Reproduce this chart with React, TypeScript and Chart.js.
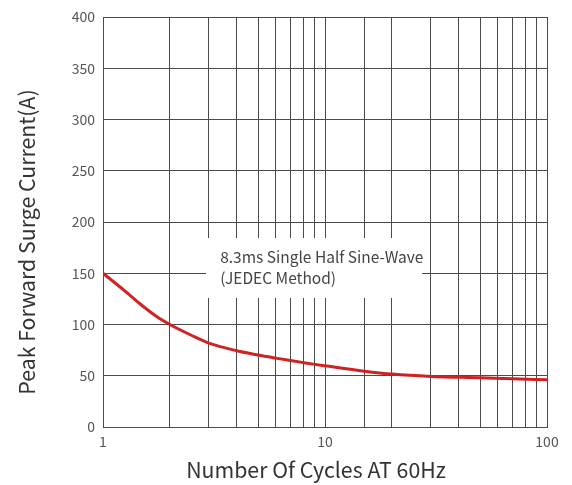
import React, { useEffect, useRef } from "react";
import { Chart, registerables } from "chart.js";

Chart.register(...registerables);

const cycles = [1, 1.25, 1.5, 1.75, 2, 2.5, 3, 4, 5, 6, 7, 8, 9, 10, 15, 20, 30, 50, 70, 100];
const surge = [150, 133, 118.5, 107.5, 100, 89.5, 81.8, 74.4, 70.2, 67.2, 64.8, 62.8, 61.1, 59.7, 54.5, 51.6, 49.3, 48, 47, 46.2];
const xTickLabels = [1, 10, 100];
const noteLines = ["8.3ms Single Half Sine-Wave", "(JEDEC Method)"];
const xTitle = "Number Of Cycles AT 60Hz";
const yTitle = "Peak Forward Surge Current(A)";

const FONT = "'Noto Sans CJK SC', 'Noto Sans', sans-serif";

const notePlugin = {
  id: "note",
  beforeDatasetsDraw(chart: any) {
    const { ctx, scales } = chart;
    const x = scales.x;
    const y = scales.y;
    const x0 = x.getPixelForValue(2.91);
    const x1 = x.getPixelForValue(27.4);
    const y0 = y.getPixelForValue(184.4);
    const y1 = y.getPixelForValue(125.9);
    ctx.save();
    ctx.fillStyle = "#ffffff";
    ctx.fillRect(x0, y0, x1 - x0, y1 - y0);
    ctx.fillStyle = "#444444";
    ctx.font = "15.5px " + FONT;
    ctx.textBaseline = "middle";
    ctx.textAlign = "left";
    const tx = x.getPixelForValue(3.37);
    ctx.fillText(noteLines[0], tx, y.getPixelForValue(166));
    ctx.fillText(noteLines[1], tx, y.getPixelForValue(145.4));
    ctx.restore();
  },
  afterDraw(chart: any) {
    const { ctx, chartArea } = chart;
    const cx = (chartArea.left + chartArea.right) / 2;
    const cy = (chartArea.top + chartArea.bottom) / 2;
    ctx.save();
    ctx.fillStyle = "#333333";
    ctx.font = "21.3px " + FONT;
    ctx.textAlign = "center";
    ctx.textBaseline = "alphabetic";
    ctx.fillText(xTitle, cx - 9, chartArea.bottom + 51);
    ctx.translate(chartArea.left - 68, cy + 20);
    ctx.rotate(-Math.PI / 2);
    ctx.fillText(yTitle, 0, 0);
    ctx.restore();
  },
};

export default function App() {
  const ref = useRef<HTMLCanvasElement>(null);
  useEffect(() => {
    document.body.style.margin = "0";
    const chart = new Chart(ref.current!, {
      type: "line",
      data: {
        labels: cycles,
        datasets: [
          {
            data: cycles.map((c, i) => ({ x: c, y: surge[i] })),
            borderColor: "#d02222",
            borderWidth: 3,
            pointRadius: 0,
            cubicInterpolationMode: "monotone",
            fill: false,
          },
        ],
      },
      options: {
        animation: false,
        responsive: false,
        layout: { padding: { top: 17, right: 25, left: 0, bottom: 0 } },
        plugins: { legend: { display: false }, tooltip: { enabled: false } },
        scales: {
          x: {
            type: "logarithmic",
            min: 1,
            max: 100,
            afterFit: (s: any) => {
              s.height = 58;
            },
            grid: { color: "#4a4a4a", lineWidth: 1, drawTicks: false },
            border: { color: "#4a4a4a", width: 1 },
            ticks: {
              autoSkip: false,
              maxRotation: 0,
              padding: 6,
              color: "#555555",
              font: { family: FONT, size: 14 },
              callback: (v: any) => (xTickLabels.includes(Number(v)) ? String(v) : ""),
            },
          },
          y: {
            min: 0,
            max: 400,
            afterFit: (s: any) => {
              s.width = 103;
            },
            grid: { color: "#4a4a4a", lineWidth: 1, drawTicks: false },
            border: { color: "#4a4a4a", width: 1 },
            ticks: {
              stepSize: 50,
              padding: 8,
              color: "#555555",
              font: { family: FONT, size: 14 },
            },
          },
        },
      },
      plugins: [notePlugin],
    } as any);
    return () => chart.destroy();
  }, []);
  return (
    <div style={{ width: 572, height: 485 }}>
      <canvas ref={ref} width={572} height={485} />
    </div>
  );
}
